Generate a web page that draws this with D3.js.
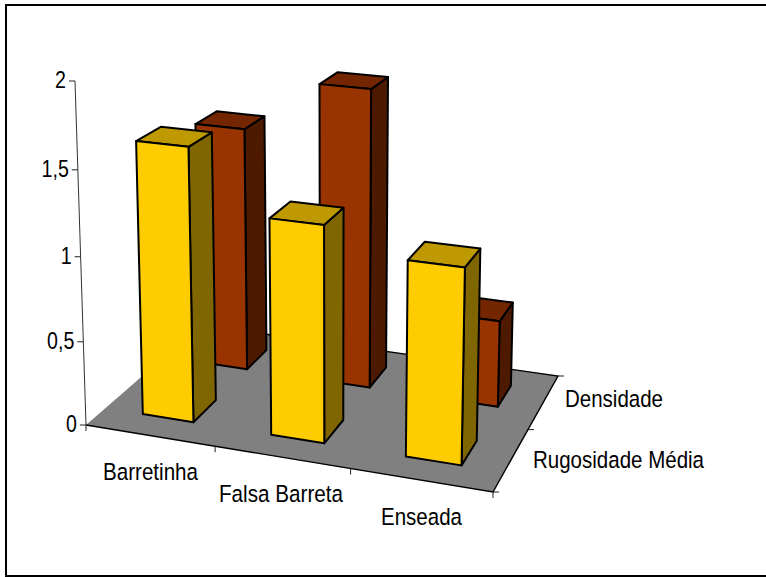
<!DOCTYPE html>
<html>
<head>
  <meta charset="utf-8">
  <title>Barras 3D</title>
  <script src="https://d3js.org/d3.v7.min.js"></script>
  <style>
    html, body { margin: 0; padding: 0; background: #fff; overflow: hidden; }
    svg { display: block; }
    text { font-family: "Liberation Sans", Arial, sans-serif; fill: #000; }
  </style>
</head>
<body>
<script>
  // data
  var categories = ["Barretinha", "Falsa Barreta", "Enseada"];
  var series = ["Rugosidade Média", "Densidade"];
  var rugosidade = [1.625, 1.27, 1.13];
  var densidade = [1.52, 1.84, 0.53];
  var valueTicks = [0, 0.5, 1, 1.5, 2];
  var tickLabels = ["0", "0,5", "1", "1,5", "2"];

  var width = 766, height = 577;
  var svg = d3.select("body").append("svg").attr("width", width).attr("height", height);

  // box frame, its right side runs off the picture
  svg.append("rect").attr("x", 6).attr("y", 5).attr("width", 780).attr("height", 571)
    .attr("fill", "#fff").attr("stroke", "#000").attr("stroke-width", 2);

  // scales, all in 0..1 of the floor
  var uScale = d3.scaleBand().domain(categories).range([0, 1]).paddingInner(0.6).paddingOuter(0.3);
  var vScale = d3.scaleBand().domain(series).range([0, 1]).paddingInner(0.6).paddingOuter(0.3);
  var hScale = d3.scaleLinear().domain([0, 2]).range([0, 1]);

  // perspective: floor corners on screen and where the verticals meet
  var fl = [86, 425], fr = [493, 492], br = [558, 376], bl = [201, 325];
  var vanish = [333, 8150];
  var axisTop = 81;

  // unit square to quad (standard homography)
  function quad(p0, p1, p2, p3) {
    var dx1 = p1[0] - p2[0], dx2 = p3[0] - p2[0], sx = p0[0] - p1[0] + p2[0] - p3[0];
    var dy1 = p1[1] - p2[1], dy2 = p3[1] - p2[1], sy = p0[1] - p1[1] + p2[1] - p3[1];
    var det = dx1 * dy2 - dx2 * dy1;
    var g = (sx * dy2 - dx2 * sy) / det;
    var h = (dx1 * sy - sx * dy1) / det;
    return [
      [p1[0] - p0[0] + g * p1[0], p3[0] - p0[0] + h * p3[0], p0[0]],
      [p1[1] - p0[1] + g * p1[1], p3[1] - p0[1] + h * p3[1], p0[1]],
      [g, h, 1]
    ];
  }
  var H = quad(fl, fr, br, bl);
  // lambda so that top of the axis lands on axisTop
  var lambda = (axisTop - fl[1]) / (vanish[1] - axisTop);

  function project(u, v, t) {
    var k = t * lambda;
    var x = H[0][0] * u + H[0][1] * v + H[0][2] + k * vanish[0];
    var y = H[1][0] * u + H[1][1] * v + H[1][2] + k * vanish[1];
    var w = H[2][0] * u + H[2][1] * v + H[2][2] + k;
    return [x / w, y / w];
  }

  var line = d3.line();
  function face(pts) { return line(pts) + "Z"; }

  // floor
  svg.append("path").attr("d", face([project(0,0,0), project(1,0,0), project(1,1,0), project(0,1,0)]))
    .attr("fill", "#808080");
  svg.append("path").attr("d", line([project(0,1,0), project(1,1,0), project(1,0,0), project(0,0,0)]))
    .attr("fill", "none").attr("stroke", "#000").attr("stroke-width", 1.4);

  // value axis
  svg.append("path").attr("d", line([project(0,0,0), project(0,0,hScale(2))]))
    .attr("fill", "none").attr("stroke", "#333").attr("stroke-width", 1);
  valueTicks.forEach(function(d, i) {
    var p = project(0, 0, hScale(d));
    svg.append("line").attr("x1", p[0] - 6).attr("x2", p[0]).attr("y1", p[1]).attr("y2", p[1])
      .attr("stroke", "#222").attr("stroke-width", 1);
    svg.append("text").attr("text-anchor", "end").attr("font-size", 24.5)
      .attr("transform", "translate(" + (p[0] - 9) + "," + (p[1] + 7) + ") scale(0.8,1)")
      .text(tickLabels[i]);
  });

  // floor ticks
  d3.range(0, 4).forEach(function(i) {
    var p = project(i / 3, 0, 0);
    svg.append("line").attr("x1", p[0]).attr("x2", p[0]).attr("y1", p[1]).attr("y2", p[1] + 6)
      .attr("stroke", "#222").attr("stroke-width", 1);
  });
  d3.range(0, 3).forEach(function(i) {
    var p = project(1, i / 2, 0);
    svg.append("line").attr("x1", p[0]).attr("x2", p[0] + 6).attr("y1", p[1]).attr("y2", p[1])
      .attr("stroke", "#222").attr("stroke-width", 1);
  });

  // bars, back row first
  function bar(cat, ser, value, front, side, top) {
    var u0 = uScale(cat), u1 = u0 + uScale.bandwidth();
    var v0 = vScale(ser), v1 = v0 + vScale.bandwidth();
    var t = hScale(value);
    var g = svg.append("g").attr("stroke", "#000").attr("stroke-width", 2).attr("stroke-linejoin", "round");
    g.append("path").attr("fill", side)
      .attr("d", face([project(u1,v0,0), project(u1,v1,0), project(u1,v1,t), project(u1,v0,t)]));
    g.append("path").attr("fill", top)
      .attr("d", face([project(u0,v0,t), project(u1,v0,t), project(u1,v1,t), project(u0,v1,t)]));
    g.append("path").attr("fill", front)
      .attr("d", face([project(u0,v0,0), project(u1,v0,0), project(u1,v0,t), project(u0,v0,t)]));
  }
  categories.forEach(function(c, i) {
    bar(c, series[1], densidade[i], "#993300", "#4d1a00", "#732600");
  });
  categories.forEach(function(c, i) {
    bar(c, series[0], rugosidade[i], "#ffcc00", "#806600", "#bf9900");
  });

  // axis names
  var catPos = [[103, 480, 95], [219, 502, 124], [381, 525, 81]];
  categories.forEach(function(c, i) {
    svg.append("text").attr("x", catPos[i][0]).attr("y", catPos[i][1]).attr("font-size", 24.5)
      .attr("textLength", catPos[i][2]).attr("lengthAdjust", "spacingAndGlyphs").text(c);
  });
  var serPos = [[533, 468, 171], [565, 407, 98]];
  series.forEach(function(s, i) {
    svg.append("text").attr("x", serPos[i][0]).attr("y", serPos[i][1]).attr("font-size", 24.5)
      .attr("textLength", serPos[i][2]).attr("lengthAdjust", "spacingAndGlyphs").text(s);
  });
</script>
</body>
</html>
